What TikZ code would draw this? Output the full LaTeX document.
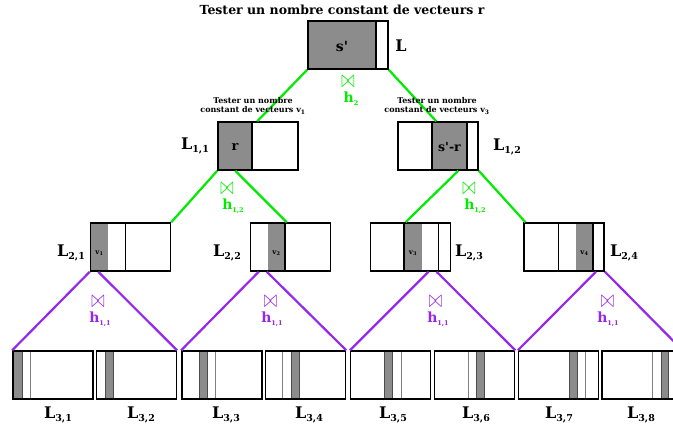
\documentclass[tikz,border=0pt]{standalone}
\usepackage{fontspec}
\setmainfont{DejaVu Serif}
\usetikzlibrary{calc}
\definecolor{lgreen}{RGB}{0,235,0}
\definecolor{lpurple}{RGB}{150,40,235}
\definecolor{cellgray}{RGB}{140,140,140}
\newcommand{\Lab}[1]{\textbf{L}\raisebox{-0.35ex}{\fontsize{9.5}{10}\selectfont\bfseries #1}}
\newcommand{\Hlab}[1]{\textbf{h}\raisebox{-0.4ex}{\fontsize{6.5}{7}\selectfont\bfseries #1}}
\newcommand{\myjoin}{\scalebox{0.95}[1.45]{$\bowtie$}}
\begin{document}
\begin{tikzpicture}[x=1pt,y=-1pt,
  box/.style={draw, line width=1.5pt, inner sep=0pt, minimum width=80pt, minimum height=48pt},
  div/.style={line width=1.5pt},
  gline/.style={lgreen, line width=2.2pt},
  pline/.style={lpurple, line width=2.2pt},
  thinl/.style={gray, line width=0.7pt},
  gcell/.style={fill=cellgray, draw=black!70, line width=0.6pt},
  lab/.style={inner sep=0pt, font=\fontsize{16}{18}\selectfont},
  note/.style={inner sep=0pt, align=center, font=\fontsize{8}{9}\selectfont\bfseries},
  jsym/.style={inner sep=0pt, font=\fontsize{18}{18}\selectfont},
  hlab/.style={inner sep=0pt, font=\fontsize{14}{14}\selectfont}]
\useasboundingbox (0,0) rectangle (673,431);

% title
\node[inner sep=0pt, font=\fontsize{12.5}{14}\selectfont\bfseries] (title) at (342,10) {Tester un nombre constant de vecteurs r};

% gray cells (level 0,1,2)
\fill[cellgray] (308,21) rectangle (376,69);
\fill[cellgray] (218,122) rectangle (252,170);
\fill[cellgray] (432,122) rectangle (467,170);
\fill[cellgray] (90.5,223) rectangle (108,271);
\fill[cellgray] (268,223) rectangle (285,271);
\fill[cellgray] (404,223) rectangle (422,271);
\fill[cellgray] (576,223) rectangle (593,271);

% level 3 cells
\draw[gcell] (13,351) rectangle (22,399);   \draw[thinl] (30.7,351) -- (30.7,399);
\draw[gcell] (105.3,351) rectangle (113.7,399);
\draw[gcell] (199.3,351) rectangle (207.3,399); \draw[thinl] (215.7,351) -- (215.7,399);
\draw[thinl] (282.7,351) -- (282.7,399); \draw[gcell] (291,351) rectangle (299.7,399);
\draw[gcell] (384.3,351) rectangle (392.7,399); \draw[thinl] (401.3,351) -- (401.3,399);
\draw[thinl] (468.3,351) -- (468.3,399); \draw[gcell] (476.7,351) rectangle (484.3,399);
\draw[gcell] (569.3,351) rectangle (577.7,399); \draw[thinl] (585.7,351) -- (585.7,399);
\draw[thinl] (652.7,351) -- (652.7,399); \draw[gcell] (661,351) rectangle (668.3,399);

% boxes
\node[box] (T) at (348,45) {};
\node[box] (L11) at (258,146) {};
\node[box] (L12) at (438,146) {};
\node[box] (L21) at (130.5,247) {};
\node[box] (L22) at (290.5,247) {};
\node[box] (L23) at (410.3,247) {};
\node[box] (L24) at (564.2,247) {};
\node[box] (L31) at (53,375) {};
\node[box] (L32) at (136.3,375) {};
\node[box] (L33) at (222,375) {};
\node[box] (L34) at (305.5,375) {};
\node[box] (L35) at (390.7,375) {};
\node[box] (L36) at (474.5,375) {};
\node[box] (L37) at (558.7,375) {};
\node[box] (L38) at (641.8,375) {};

% dividers
\draw[div] (376,21) -- (376,69);
\draw[div] (252,122) -- (252,170);
\draw[div] (432,122) -- (432,170);
\draw[div] (467,122) -- (467,170);
\draw[div] (125.3,223) -- (125.3,271);
\draw[div] (285,223) -- (285,271);
\draw[div] (404,223) -- (404,271);
\draw[div] (438.3,223) -- (438.3,271);
\draw[div] (558.3,223) -- (558.3,271);
\draw[div] (593,223) -- (593,271);

% cell texts
\node[inner sep=0pt, font=\fontsize{14}{14}\selectfont\bfseries] (ts) at (342,46) {s\textquotesingle};
\node[inner sep=0pt, font=\fontsize{13}{13}\selectfont\bfseries] (tr) at (235,147) {r};
\node[inner sep=0pt, font=\fontsize{12.5}{13}\selectfont\bfseries] (tsr) at (449.5,147) {s\textquotesingle-r};
\node[inner sep=0pt, font=\fontsize{7}{7}\selectfont\bfseries] (tv1) at (99.5,253) {v\textsubscript{1}};
\node[inner sep=0pt, font=\fontsize{7}{7}\selectfont\bfseries] (tv2) at (276.5,253) {v\textsubscript{2}};
\node[inner sep=0pt, font=\fontsize{7}{7}\selectfont\bfseries] (tv3) at (413,253) {v\textsubscript{3}};
\node[inner sep=0pt, font=\fontsize{7}{7}\selectfont\bfseries] (tv4) at (584.5,253) {v\textsubscript{4}};

% green connectors
\draw[gline] (T.south west) -- ($(L11.north west)+(40,0)$);
\draw[gline] (T.south east) -- ($(L12.north west)+(39,0)$);
\draw[gline] (L11.south west) -- (L21.north east);
\draw[gline] ($(L11.south west)+(18,0)$) -- ($(L22.north west)+(37,0)$);
\draw[gline] ($(L12.south west)+(61,0)$) -- ($(L23.north west)+(36,0)$);
\draw[gline] (L12.south east) -- ($(L24.north west)+(2,0)$);

% purple connectors
\draw[pline] (L21.south west) -- (L31.north west);
\draw[pline] ($(L21.south west)+(8.5,0)$) -- (L32.north east);
\draw[pline] ($(L22.south west)+(9,0)$) -- (L33.north west);
\draw[pline] ($(L22.south west)+(17,0)$) -- (L34.north east);
\draw[pline] ($(L23.south west)+(59,0)$) -- (L35.north west);
\draw[pline] ($(L23.south west)+(67,0)$) -- (L36.north east);
\draw[pline] ($(L24.south west)+(72.5,0)$) -- (L37.north west);
\draw[pline] (L24.south east) -- (L38.north east);

% notes
\node[note] (n1) at (253,106) {Tester un nombre\\constant de vecteurs v\textsubscript{1}};
\node[note] (n2) at (437,106) {Tester un nombre\\constant de vecteurs v\textsubscript{3}};

% join symbols and h labels
\node[jsym, text=lgreen] (j0) at (348,82) {\myjoin};
\node[hlab, text=lgreen] (h0) at (351,99) {\Hlab{2}};
\node[jsym, text=lgreen] (j1) at (227,189) {\myjoin};
\node[hlab, text=lgreen] (h1) at (233,206) {\Hlab{1,2}};
\node[jsym, text=lgreen] (j2) at (469,189) {\myjoin};
\node[hlab, text=lgreen] (h2) at (475,206) {\Hlab{1,2}};
\node[jsym, text=lpurple] (j3) at (98,302) {\myjoin};
\node[hlab, text=lpurple] (h3) at (100,319) {\Hlab{1,1}};
\node[jsym, text=lpurple] (j4) at (270.5,302) {\myjoin};
\node[hlab, text=lpurple] (h4) at (272,319) {\Hlab{1,1}};
\node[jsym, text=lpurple] (j5) at (435.5,302) {\myjoin};
\node[hlab, text=lpurple] (h5) at (438,319) {\Hlab{1,1}};
\node[jsym, text=lpurple] (j6) at (607.5,302) {\myjoin};
\node[hlab, text=lpurple] (h6) at (608,319) {\Hlab{1,1}};

% level labels
\node[lab] (lL) at (401,46) {\textbf{L}};
\node[lab] (l11) at (195,146) {\Lab{1,1}};
\node[lab] (l12) at (507,147) {\Lab{1,2}};
\node[lab] (l21) at (71,253) {\Lab{2,1}};
\node[lab] (l22) at (227,253) {\Lab{2,2}};
\node[lab] (l23) at (469,253) {\Lab{2,3}};
\node[lab] (l24) at (624,253) {\Lab{2,4}};
\node[lab] (l31) at (58,415) {\Lab{3,1}};
\node[lab] (l32) at (141,415) {\Lab{3,2}};
\node[lab] (l33) at (226,415) {\Lab{3,3}};
\node[lab] (l34) at (309,415) {\Lab{3,4}};
\node[lab] (l35) at (393,415) {\Lab{3,5}};
\node[lab] (l36) at (476,415) {\Lab{3,6}};
\node[lab] (l37) at (559,415) {\Lab{3,7}};
\node[lab] (l38) at (641,415) {\Lab{3,8}};
\end{tikzpicture}
\end{document}
